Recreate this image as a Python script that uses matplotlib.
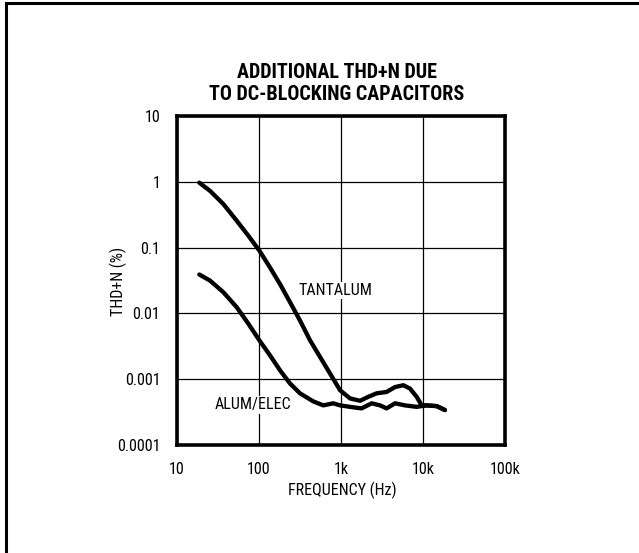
import matplotlib
matplotlib.use("Agg")
import matplotlib.pyplot as plt
from matplotlib import font_manager as fm
from matplotlib.lines import Line2D

# ---- data (frequency in Hz, THD+N in %) ----
tant_f = [18.7, 25.2, 36.7, 53.5, 74, 101, 136, 180, 239, 316, 419, 555, 735, 973,
          1290, 1710, 2150, 2720, 3600, 4560, 5760, 6940, 8370, 9640, 11100, 14700, 18500]
tant_v = [0.97, 0.73, 0.46, 0.256, 0.152, 0.090, 0.050, 0.028, 0.0148, 0.0078, 0.0039, 0.00218, 0.00122, 0.00068,
          0.00051, 0.00047, 0.00054, 0.00061, 0.00064, 0.00076, 0.00081, 0.00072, 0.00054, 0.00040, 0.00040, 0.00039, 0.00034]
alum_f = [18.7, 25.2, 36.7, 53.5, 74, 101, 136, 180, 239, 316, 459, 608, 805, 973,
          1290, 1780, 2370, 2990, 3600, 4560, 6030, 8370, 11100, 14700, 18500]
alum_v = [0.039, 0.0316, 0.021, 0.0124, 0.0070, 0.0039, 0.00231, 0.00137, 0.00086, 0.00061, 0.00046, 0.00040, 0.00043, 0.00040,
          0.00038, 0.00036, 0.00043, 0.00040, 0.00036, 0.00043, 0.00040, 0.00038, 0.00040, 0.00039, 0.00034]

x_ticks = [10, 100, 1000, 10000, 100000]
x_labels = ["10", "100", "1k", "10k", "100k"]
y_ticks = [0.0001, 0.001, 0.01, 0.1, 1, 10]
y_labels = ["0.0001", "0.001", "0.01", "0.1", "1", "10"]

# ---- font: prefer a condensed/narrow sans ----
def find_font(bold):
    cands = []
    for f in fm.fontManager.ttflist:
        nm = f.name.lower()
        fn = f.fname.lower()
        cond = ('narrow' in nm or 'condensed' in nm or 'narrow' in fn or 'condensed' in fn
                or f.stretch in ('condensed', 'semi-condensed', 'extra-condensed'))
        if not cond or 'mono' in nm or 'serif' in nm and 'sans' not in nm:
            continue
        if 'italic' in fn or 'oblique' in fn or f.style != 'normal':
            continue
        w = f.weight if isinstance(f.weight, int) else (700 if f.weight == 'bold' else 400)
        if bold and w < 600:
            continue
        if not bold and w >= 600:
            continue
        score = 0
        if 'liberation' in nm: score += 3
        if 'roboto' in nm: score += 2
        if 'semi' in fn: score -= 1
        if 'extra' in fn or 'ultra' in fn: score -= 2
        if not bold and w != 400: score -= 1
        cands.append((score, f.fname))
    if cands:
        cands.sort(reverse=True)
        return fm.FontProperties(fname=cands[0][1])
    return None

fp_reg = find_font(False)
fp_bold = find_font(True)
if fp_reg is None:
    fp_reg = fm.FontProperties(family=['Liberation Sans', 'DejaVu Sans'])
    rsize = 10
else:
    rsize = 11.5
if fp_bold is None:
    fp_bold = fm.FontProperties(family=['Liberation Sans', 'DejaVu Sans'], weight='bold')
    bsize = 12
else:
    bsize = 14.5

def fp(base, size):
    p = base.copy()
    p.set_size(size)
    return p

W, H = 639, 553
fig = plt.figure(figsize=(W/100, H/100), dpi=100)
ax = fig.add_axes([177/W, (H-445)/H, 328/W, (445-116)/H])
ax.set_xscale('log')
ax.set_yscale('log')
ax.set_xlim(10, 100000)
ax.set_ylim(0.0001, 10)
ax.set_xticks(x_ticks)
ax.set_xticklabels(x_labels, fontproperties=fp(fp_reg, rsize))
ax.set_yticks(y_ticks)
ax.set_yticklabels(y_labels, fontproperties=fp(fp_reg, rsize))
ax.minorticks_off()
ax.tick_params(axis='y', length=0, pad=12)
ax.tick_params(axis='x', length=0, pad=12)
ax.grid(True, color='black', linewidth=0.9)
for s in ax.spines.values():
    s.set_linewidth(2.6)

ax.plot(tant_f, tant_v, color='black', linewidth=3.1, solid_capstyle='round', solid_joinstyle='round')
ax.plot(alum_f, alum_v, color='black', linewidth=3.1, solid_capstyle='round', solid_joinstyle='round')

ax.text(850, 0.0223, "TANTALUM", fontproperties=fp(fp_reg, rsize), ha='center', va='center',
        bbox=dict(facecolor='white', edgecolor='none', pad=1))
ax.text(84, 0.00041, "ALUM/ELEC", fontproperties=fp(fp_reg, rsize), ha='center', va='center',
        bbox=dict(facecolor='white', edgecolor='none', pad=1))

ax.set_xlabel("FREQUENCY (Hz)", fontproperties=fp(fp_reg, rsize))
ax.xaxis.set_label_coords((342-177)/328, -(490-445)/329)
ax.set_ylabel("THD+N (%)", fontproperties=fp(fp_reg, rsize))
ax.yaxis.set_label_coords((118-177)/328, (445-281)/329)
ax.xaxis.label.set_va('center')
ax.yaxis.label.set_va('center')

fig.text(337/W, 1-72/H, "ADDITIONAL THD+N DUE", fontproperties=fp(fp_bold, bsize), ha='center', va='center')
fig.text(337/W, 1-94/H, "TO DC-BLOCKING CAPACITORS", fontproperties=fp(fp_bold, bsize), ha='center', va='center')

# figure border (top and left)
fig.add_artist(Line2D([6/W, 1], [1-3/H, 1-3/H], transform=fig.transFigure, color='black', linewidth=2.2))
fig.add_artist(Line2D([6/W, 6/W], [0, 1-3/H], transform=fig.transFigure, color='black', linewidth=2.2))

fig.savefig("out.png", dpi=100)
